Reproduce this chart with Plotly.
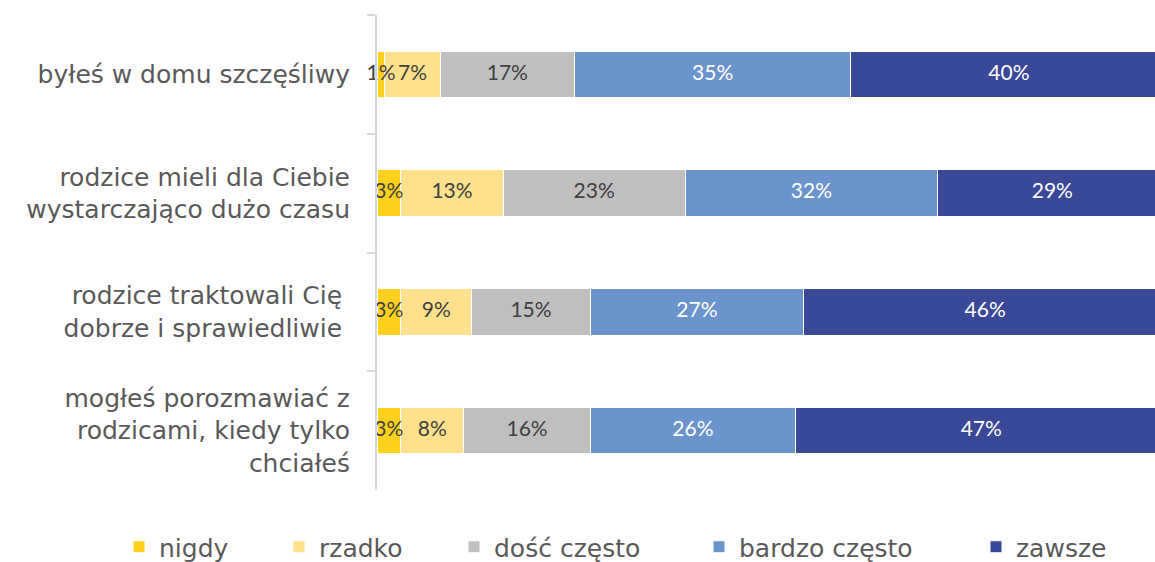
import plotly.graph_objects as go

categories = [
    "byłeś w domu szczęśliwy",
    "rodzice mieli dla Ciebie<br>wystarczająco dużo czasu",
    "rodzice traktowali Cię <br>dobrze i sprawiedliwie ",
    "mogłeś porozmawiać z<br>rodzicami, kiedy tylko<br>chciałeś",
]
series_names = ["nigdy", "rzadko", "dość często", "bardzo często", "zawsze"]
nigdy = [1, 3, 3, 3]
rzadko = [7, 13, 9, 8]
dosc_czesto = [17, 23, 15, 16]
bardzo_czesto = [35, 32, 27, 26]
zawsze = [40, 29, 46, 47]
values = [nigdy, rzadko, dosc_czesto, bardzo_czesto, zawsze]

colors = ["#FFD11E", "#FFE08C", "#BFBFBF", "#6C94CC", "#3A4898"]
text_colors = ["#404040", "#404040", "#404040", "#FFFFFF", "#FFFFFF"]

W, H = 1155, 562
L, R, T, B = 377, 0, 15, 72
plot_w = W - L - R
plot_h = H - T - B

# legend icon pixel positions (left edge of marker)
legend_px = [133, 293, 468, 713, 990]

fig = go.Figure()
base = [0] * len(categories)
for i, (name, vals) in enumerate(zip(series_names, values)):
    lg = "legend" if i == 0 else f"legend{i+1}"
    fig.add_trace(go.Bar(
        y=categories, x=vals, name=name, orientation="h",
        marker=dict(color=colors[i], line=dict(color="white", width=1)),
        textposition="none",
        legend=lg,
        hoverinfo="skip",
    ))
    mids = [b + v / 2 for b, v in zip(base, vals)]
    fig.add_trace(go.Scatter(
        y=categories, x=mids, mode="text",
        text=[f"{v}%" for v in vals],
        textposition="middle center",
        textfont=dict(family="Lato", size=21, color=text_colors[i]),
        showlegend=False, hoverinfo="skip", cliponaxis=False,
    ))
    base = [b + v for b, v in zip(base, vals)]

layout_legends = {}
for i, px in enumerate(legend_px):
    key = "legend" if i == 0 else f"legend{i+1}"
    layout_legends[key] = dict(
        x=(px - 14 - L) / plot_w, xanchor="left",
        y=(H - B - 547) / plot_h, yanchor="middle",
        orientation="h",
        font=dict(family="DejaVu Sans", size=25, color="#595959"),
        bgcolor="rgba(0,0,0,0)",
        itemwidth=30,
    )

fig.update_layout(
    width=W, height=H,
    margin=dict(l=L, r=R, t=T, b=B, autoexpand=False),
    barmode="stack",
    bargap=0.61,
    plot_bgcolor="white", paper_bgcolor="white",
    showlegend=True,
    xaxis=dict(range=[0, 98.5], showgrid=False, zeroline=False,
               showticklabels=False, ticks="", showline=False, fixedrange=True),
    yaxis=dict(autorange="reversed", showgrid=False, zeroline=False,
               showline=True, linecolor="#D9D9D9", linewidth=2,
               ticks="outside", tickson="boundaries", ticklen=8,
               tickcolor="#D9D9D9", tickwidth=2,
               ticklabelstandoff=20,
               tickfont=dict(family="DejaVu Sans", size=25, color="#595959")),
    **layout_legends,
)

fig.write_html("out.html", config={"responsive": False, "displayModeBar": False},
               post_script="document.body.style.margin='0';document.body.style.overflow='hidden';")
